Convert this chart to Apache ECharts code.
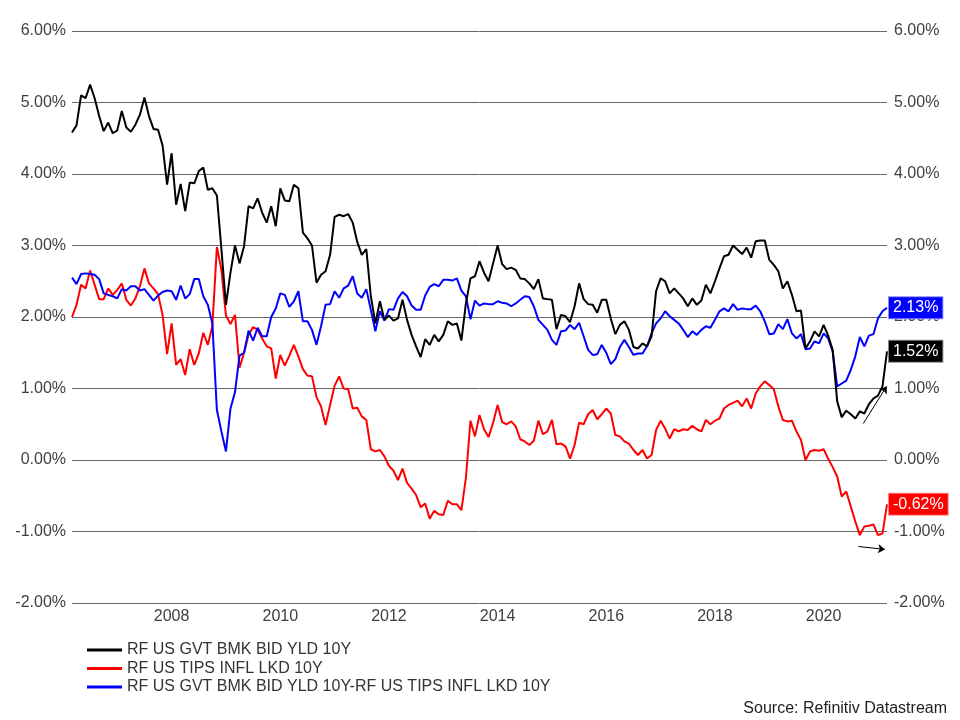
<!DOCTYPE html>
<html><head><meta charset="utf-8">
<script src="https://cdn.jsdelivr.net/npm/echarts@6/dist/echarts.min.js"></script>
<style>html,body{margin:0;padding:0;background:#fff}#c{width:960px;height:720px}</style>
</head><body><div id="c"></div>
<script>
// Monthly observations, Feb 2006 .. Feb 2021 (month-end)
const startYear = 2006, startMonth = 2, nMonths = 181;
const months = [];
for (let i = 0; i < nMonths; i++) {
  const mm = startMonth - 1 + i;
  months.push((startYear + Math.floor(mm / 12)) + '-' + String(mm % 12 + 1).padStart(2, '0'));
}
const yearLabels = [2008, 2010, 2012, 2014, 2016, 2018, 2020];
const seriesNames = ['RF US GVT BMK BID YLD 10Y', 'RF US TIPS INFL LKD 10Y', 'RF US GVT BMK BID YLD 10Y-RF US TIPS INFL LKD 10Y'];

const govYield = [
 4.58,4.68,5.10,5.06,5.25,5.06,4.81,4.60,4.72,4.57,
 4.61,4.88,4.65,4.59,4.69,4.83,5.07,4.81,4.63,4.62,
 4.40,3.85,4.29,3.57,3.86,3.48,3.88,3.87,4.04,4.09,
 3.78,3.80,3.70,2.95,2.17,2.62,3.00,2.75,2.99,3.55,
 3.52,3.66,3.46,3.32,3.55,3.27,3.80,3.63,3.62,3.85,
 3.80,3.18,3.10,3.00,2.48,2.59,2.64,2.87,3.40,3.43,
 3.41,3.44,3.32,3.05,2.87,2.95,2.29,1.91,2.22,1.96,
 2.02,1.95,1.98,2.24,1.96,1.75,1.59,1.44,1.69,1.61,
 1.75,1.66,1.75,1.94,1.89,1.91,1.67,2.19,2.54,2.57,
 2.78,2.62,2.50,2.75,3.00,2.74,2.67,2.69,2.66,2.54,
 2.53,2.47,2.39,2.53,2.26,2.25,2.24,1.83,2.03,2.01,
 1.93,2.15,2.47,2.25,2.18,2.17,2.06,2.24,2.24,1.98,
 1.76,1.89,1.94,1.82,1.58,1.56,1.63,1.59,1.73,2.36,
 2.54,2.50,2.33,2.40,2.33,2.26,2.15,2.26,2.17,2.23,
 2.45,2.33,2.50,2.68,2.85,2.87,3.00,2.94,2.88,2.97,
 2.83,3.06,3.07,3.07,2.80,2.73,2.64,2.40,2.50,2.31,
 2.08,2.09,1.56,1.66,1.80,1.73,1.89,1.74,1.54,0.82,
 0.60,0.69,0.64,0.58,0.68,0.65,0.78,0.86,0.90,1.03,
 1.52];

const tipsYield = [
 2.00,2.17,2.45,2.40,2.65,2.45,2.25,2.25,2.40,2.31,
 2.38,2.47,2.24,2.16,2.26,2.43,2.68,2.47,2.40,2.32,
 2.03,1.48,1.91,1.33,1.41,1.19,1.55,1.33,1.49,1.78,
 1.61,1.87,2.98,2.66,2.02,1.90,2.03,1.29,1.50,1.75,
 1.86,1.82,1.70,1.59,1.56,1.14,1.47,1.32,1.46,1.61,
 1.45,1.27,1.18,1.17,0.88,0.75,0.49,0.77,1.04,1.17,
 1.00,0.99,0.72,0.73,0.61,0.56,0.15,0.12,0.14,0.05,
 -0.08,-0.15,-0.28,-0.12,-0.32,-0.40,-0.49,-0.66,-0.61,-0.82,
 -0.71,-0.76,-0.77,-0.57,-0.62,-0.62,-0.70,-0.25,0.55,0.33,
 0.63,0.43,0.32,0.52,0.77,0.53,0.50,0.54,0.47,0.29,
 0.26,0.21,0.27,0.55,0.36,0.40,0.56,0.22,0.23,0.19,
 0.02,0.21,0.52,0.50,0.64,0.70,0.57,0.64,0.72,0.65,
 0.35,0.33,0.26,0.23,0.14,0.07,0.14,0.02,0.07,0.42,
 0.55,0.44,0.30,0.43,0.40,0.43,0.42,0.48,0.43,0.40,
 0.56,0.50,0.55,0.58,0.72,0.77,0.80,0.83,0.75,0.86,
 0.72,0.93,1.03,1.10,1.05,0.99,0.75,0.56,0.54,0.55,
 0.40,0.28,0.00,0.12,0.14,0.13,0.15,0.02,-0.10,-0.23,
 -0.51,-0.44,-0.65,-0.86,-1.05,-0.93,-0.92,-0.90,-1.05,-1.03,
 -0.62];

const breakeven = [
 2.55,2.46,2.60,2.61,2.60,2.59,2.53,2.33,2.31,2.29,
 2.26,2.39,2.37,2.43,2.43,2.37,2.39,2.31,2.23,2.30,
 2.35,2.37,2.36,2.24,2.44,2.26,2.32,2.53,2.53,2.29,
 2.17,1.91,0.70,0.40,0.12,0.72,0.95,1.46,1.50,1.81,
 1.67,1.85,1.73,1.73,2.00,2.12,2.33,2.31,2.14,2.22,
 2.36,1.94,1.94,1.82,1.61,1.87,2.17,2.18,2.36,2.27,
 2.40,2.44,2.57,2.33,2.27,2.39,2.10,1.80,2.08,1.95,
 2.11,2.10,2.26,2.35,2.29,2.16,2.10,2.10,2.30,2.42,
 2.46,2.43,2.52,2.52,2.51,2.54,2.37,2.29,1.97,2.23,
 2.16,2.19,2.18,2.18,2.22,2.20,2.19,2.15,2.19,2.24,
 2.29,2.28,2.15,1.96,1.89,1.82,1.68,1.61,1.80,1.81,
 1.89,1.83,1.92,1.73,1.54,1.47,1.48,1.61,1.50,1.34,
 1.41,1.58,1.68,1.58,1.47,1.49,1.49,1.59,1.77,1.91,
 1.98,2.08,2.01,1.96,1.91,1.82,1.72,1.80,1.75,1.82,
 1.87,1.85,1.96,2.08,2.12,2.08,2.18,2.10,2.12,2.11,
 2.11,2.16,2.08,1.94,1.76,1.77,1.90,1.83,1.97,1.77,
 1.70,1.76,1.55,1.56,1.66,1.63,1.77,1.70,1.52,1.03,
 1.07,1.11,1.26,1.45,1.72,1.59,1.74,1.76,1.98,2.08,
 2.13];

// Annotation arrows (data coordinates: decimal year, percent)
const arrowUp = [[2020.73, 0.51], [2021.16, 1.03]];
const arrowRight = [[2020.64, -1.21], [2021.13, -1.25]];

const toYear = s => { const [y, m] = s.split('-').map(Number); return y + m / 12; };
const xs = months.map(toYear);
const pairs = arr => arr.map((v, i) => [xs[i], v]);
const FONT = '"Liberation Sans", Arial, sans-serif';
const pct = v => v.toFixed(2) + '%';

function endLabel(bg, border) {
  return { show: true, formatter: p => pct(p.value[1]), color: '#fff', backgroundColor: bg,
    borderColor: border, borderWidth: 1, padding: [3, 4, 2, 4], fontSize: 16, fontFamily: FONT, distance: 2 };
}
function arrow(a) {
  return { silent: true, symbol: ['none', 'arrow'], symbolSize: 7, animation: false,
    label: { show: false }, lineStyle: { color: '#000', width: 1, type: 'solid' },
    data: [[{ coord: a[0] }, { coord: a[1] }]] };
}

const chart = echarts.init(document.getElementById('c'), null, { renderer: 'canvas' });
const yAxisBase = {
  type: 'value', min: -2, max: 6, interval: 1,
  axisLine: { show: false }, axisTick: { show: false },
  axisLabel: { formatter: pct, fontSize: 16, fontFamily: FONT, color: '#404040' }
};
chart.setOption({
  animation: false,
  backgroundColor: '#fff',
  grid: { left: 72, right: 73, top: 31, bottom: 117 },
  xAxis: {
    type: 'value', min: xs[0], max: xs[xs.length - 1],
    axisLine: { show: false }, axisTick: { show: false }, splitLine: { show: false },
    axisLabel: { customValues: yearLabels, formatter: v => String(Math.round(v)), fontSize: 16, fontFamily: FONT, color: '#404040', margin: 6 }
  },
  yAxis: [
    Object.assign({}, yAxisBase, { position: 'left', splitLine: { show: true, lineStyle: { color: '#666', width: 1 } },
      axisLabel: Object.assign({}, yAxisBase.axisLabel, { margin: 6 }) }),
    Object.assign({}, yAxisBase, { position: 'right', splitLine: { show: false },
      axisLabel: Object.assign({}, yAxisBase.axisLabel, { margin: 7 }) })
  ],
  legend: {
    orient: 'vertical', left: 82, top: 637, itemWidth: 35, itemHeight: 3, itemGap: 2.5, icon: 'rect',
    textStyle: { fontSize: 16, fontFamily: FONT, color: '#333', lineHeight: 16 },
    data: seriesNames
  },
  graphic: [{ type: 'text', right: 13, top: 701, style: { text: 'Source: Refinitiv Datastream', font: '16px ' + FONT, fill: '#222' } }],
  series: [
    { name: seriesNames[0], type: 'line', data: pairs(govYield), showSymbol: false, color: '#000',
      lineStyle: { width: 2, color: '#000' }, z: 3, endLabel: endLabel('#000', '#888'), markLine: arrow(arrowUp) },
    { name: seriesNames[1], type: 'line', data: pairs(tipsYield), showSymbol: false, color: '#ff0000',
      lineStyle: { width: 2, color: '#ff0000' }, z: 2, endLabel: endLabel('#ff0000', '#ff8888'), markLine: arrow(arrowRight) },
    { name: seriesNames[2], type: 'line', data: pairs(breakeven), showSymbol: false, color: '#0000ff',
      lineStyle: { width: 2, color: '#0000ff' }, z: 2, endLabel: endLabel('#0000ff', '#8888ff') }
  ]
});
</script></body></html>
